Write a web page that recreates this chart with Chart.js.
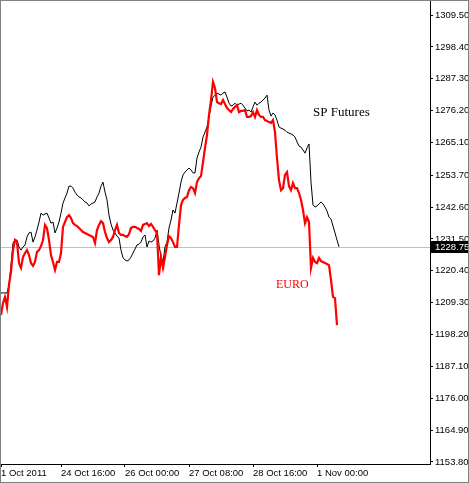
<!DOCTYPE html>
<html>
<head>
<meta charset="utf-8">
<script src="https://cdn.jsdelivr.net/npm/chart.js@4"></script>
<style>
html,body{margin:0;padding:0;background:#fff;overflow:hidden;}
canvas{display:block;}
</style>
</head>
<body>
<canvas id="c" width="469" height="483"></canvas>
<script>
// Bar index (H1 bars) of the x-axis labels and their texts
const xTickBars = [0, 30, 62, 94, 126, 158];
const xTickLabels = ['1 Oct 2011', '24 Oct 16:00', '26 Oct 00:00', '27 Oct 08:00', '28 Oct 16:00', '1 Nov 00:00'];

// Price axis ticks
const yTickValues = [1309.5, 1298.4, 1287.3, 1276.2, 1265.1, 1253.7, 1242.6, 1231.5, 1220.4, 1209.3, 1198.2, 1187.1, 1176.0, 1164.9, 1153.8];
const yTickLabels = ['1309.50', '1298.40', '1287.30', '1276.20', '1265.10', '1253.70', '1242.60', '1231.50', '1220.40', '1209.30', '1198.20', '1187.10', '1176.00', '1164.90', '1153.80'];

// Series (one value per hourly bar)
const euroValues = [
1205.0,1209.2,1211.3,1207.8,1215.5,1220.0,1227.6,1231.1,1230.4,1223.1,
1221.4,1225.2,1226.6,1227.6,1225.9,1223.1,1222.1,1223.5,1227.0,1227.6,
1229.0,1231.1,1236.4,1235.3,1231.1,1225.9,1223.5,1220.7,1223.5,1223.5,
1226.6,1235.7,1237.4,1239.1,1239.8,1238.8,1237.0,1236.4,1236.0,1235.3,
1234.6,1233.9,1233.6,1233.2,1232.9,1232.5,1232.2,1230.1,1234.6,1236.4,
1237.7,1237.0,1233.9,1231.8,1230.4,1231.1,1232.2,1234.6,1236.4,1233.6,
1232.9,1232.9,1232.5,1232.2,1233.2,1235.3,1235.7,1235.7,1235.3,1235.0,
1234.3,1236.4,1236.7,1237.0,1236.0,1236.7,1235.7,1234.6,1233.6,1218.9,
1225.2,1221.4,1225.2,1229.4,1232.5,1231.8,1230.4,1228.7,1228.7,1236.4,
1243.3,1245.1,1245.8,1246.1,1248.5,1249.6,1249.2,1247.5,1251.3,1252.7,
1253.4,1258.3,1263.2,1267.7,1274.7,1279.9,1286.2,1284.1,1279.2,1278.8,
1278.5,1279.9,1278.5,1277.1,1276.4,1275.7,1276.8,1277.5,1278.1,1275.7,
1276.1,1276.1,1276.4,1274.0,1274.0,1274.3,1275.7,1274.0,1276.4,1274.7,
1274.0,1274.0,1272.9,1272.6,1272.2,1271.9,1272.9,1268.7,1259.7,1252.0,
1248.5,1249.2,1253.8,1254.8,1249.9,1248.5,1251.0,1249.2,1249.2,1247.5,
1245.1,1241.6,1237.0,1239.1,1237.4,1221.4,1224.9,1223.5,1223.1,1224.9,
1223.8,1223.5,1223.1,1222.8,1222.4,1217.2,1211.3,1210.9,1201.5
];
const spValues = [
1212.7,1212.7,1212.7,1212.7,1215.5,1222.4,1230.1,1231.1,1231.1,1228.7,
1227.6,1228.7,1229.4,1232.2,1233.6,1233.9,1230.4,1232.2,1234.6,1237.4,
1240.5,1239.8,1240.2,1240.5,1238.8,1237.0,1237.4,1233.6,1235.3,1237.4,
1240.5,1244.0,1245.8,1247.5,1249.9,1249.9,1249.2,1247.8,1246.8,1246.1,
1245.8,1245.1,1244.4,1244.0,1243.0,1243.7,1244.0,1244.4,1246.1,1247.5,
1249.9,1251.3,1247.8,1245.1,1239.8,1236.7,1234.6,1233.6,1232.5,1231.8,
1227.6,1224.9,1224.2,1223.8,1224.2,1225.2,1226.6,1228.0,1229.4,1229.7,
1230.4,1232.2,1232.9,1228.7,1230.8,1230.4,1230.8,1231.8,1234.6,1229.4,
1225.2,1223.5,1228.7,1230.4,1235.3,1238.1,1241.6,1240.5,1244.0,1247.5,
1251.3,1253.8,1254.8,1255.5,1256.2,1255.5,1254.5,1254.5,1259.7,1261.8,
1263.5,1267.0,1268.7,1270.5,1274.0,1277.8,1280.9,1281.6,1282.3,1282.0,
1281.6,1282.3,1282.7,1280.9,1278.8,1277.8,1278.1,1278.8,1278.1,1278.5,
1278.8,1278.1,1277.1,1276.1,1276.4,1275.7,1277.5,1279.2,1278.1,1278.8,
1279.2,1279.9,1280.6,1281.6,1276.4,1274.3,1275.4,1274.7,1272.9,1270.5,
1270.1,1269.8,1269.4,1268.7,1268.4,1268.1,1267.7,1267.0,1265.3,1263.9,
1263.5,1262.5,1261.4,1263.2,1264.6,1251.3,1243.3,1242.6,1243.0,1243.7,
1244.4,1243.7,1242.6,1241.2,1239.1,1238.4,1236.0,1233.6,1231.1,1228.75
];
const lastPrice = 1228.75;

const axisFont = {family: 'Liberation Sans', size: 9.5};

const decorPlugin = {
  id: 'decor',
  beforeDraw(chart) {
    const ctx = chart.ctx;
    ctx.save();
    ctx.fillStyle = '#ffffff';
    ctx.fillRect(0, 0, chart.width, chart.height);
    ctx.restore();
  },
  beforeDatasetsDraw(chart) {
    const ctx = chart.ctx, a = chart.chartArea;
    const y = Math.round(chart.scales.y.getPixelForValue(lastPrice)) + 0.5;
    ctx.save();
    ctx.strokeStyle = '#c0c0c0';
    ctx.lineWidth = 1;
    ctx.beginPath();
    ctx.moveTo(a.left, y);
    ctx.lineTo(a.right, y);
    ctx.stroke();
    ctx.restore();
  },
  afterDraw(chart) {
    const ctx = chart.ctx, a = chart.chartArea;
    const xs = chart.scales.x, ys = chart.scales.y;
    ctx.save();
    // current price box
    const py = ys.getPixelForValue(lastPrice);
    ctx.fillStyle = '#000000';
    ctx.fillRect(a.right + 1, Math.round(py) - 6, chart.width - a.right - 1, 12);
    ctx.fillStyle = '#ffffff';
    ctx.font = '9.5px "Liberation Sans"';
    ctx.textBaseline = 'middle';
    ctx.textAlign = 'left';
    ctx.fillText(lastPrice.toFixed(2), a.right + 5, Math.round(py) + 0.5);
    // series names
    ctx.font = '13px "Liberation Serif"';
    ctx.fillStyle = '#000000';
    ctx.fillText('SP Futures', xs.getPixelForValue(156), ys.getPixelForValue(1275.7));
    ctx.font = '12px "Liberation Serif"';
    ctx.fillStyle = '#ff0000';
    ctx.fillText('EURO', xs.getPixelForValue(137.5), ys.getPixelForValue(1215.5));
    // outer frame
    ctx.strokeStyle = '#808080';
    ctx.lineWidth = 1;
    ctx.strokeRect(0.5, 0.5, chart.width - 1, chart.height - 1);
    ctx.restore();
  }
};

new Chart(document.getElementById('c'), {
  type: 'line',
  data: {
    datasets: [
      {
        label: 'EURO',
        data: euroValues.map((v, i) => ({x: i, y: v})),
        borderColor: '#ff0000',
        borderWidth: 2.2,
        pointRadius: 0,
        tension: 0,
        fill: false
      },
      {
        label: 'SP Futures',
        data: spValues.map((v, i) => ({x: i, y: v})),
        borderColor: '#000000',
        borderWidth: 1,
        pointRadius: 0,
        tension: 0,
        fill: false
      }
    ]
  },
  options: {
    responsive: false,
    animation: false,
    events: [],
    layout: {padding: {left: 1, top: 1, right: 1, bottom: 1}},
    plugins: {legend: {display: false}, tooltip: {enabled: false}},
    scales: {
      x: {
        type: 'linear',
        min: 0,
        max: 214.5,
        afterBuildTicks(scale) { scale.ticks = xTickBars.map(v => ({value: v})); },
        afterFit(scale) { scale.height = 18; scale.paddingLeft = 0; scale.paddingRight = 0; },
        grid: {drawOnChartArea: false, drawTicks: true, tickLength: 3, color: '#000000'},
        border: {display: true, color: '#000000', width: 1},
        ticks: {
          autoSkip: false, maxRotation: 0, minRotation: 0, align: 'start', padding: 1,
          color: '#000000', font: axisFont,
          callback: (v, i) => xTickLabels[i]
        }
      },
      y: {
        type: 'linear',
        position: 'right',
        min: 1153.1,
        max: 1314.4,
        afterBuildTicks(scale) { scale.ticks = yTickValues.map(v => ({value: v})); },
        afterFit(scale) { scale.width = 38; scale.paddingTop = 0; scale.paddingBottom = 0; },
        grid: {drawOnChartArea: false, drawTicks: true, tickLength: 3, color: '#000000'},
        border: {display: true, color: '#000000', width: 1},
        ticks: {
          autoSkip: false, padding: 2, color: '#000000', font: axisFont,
          callback: (v, i) => yTickLabels[i]
        }
      }
    }
  },
  plugins: [decorPlugin]
});
</script>
</body>
</html>
